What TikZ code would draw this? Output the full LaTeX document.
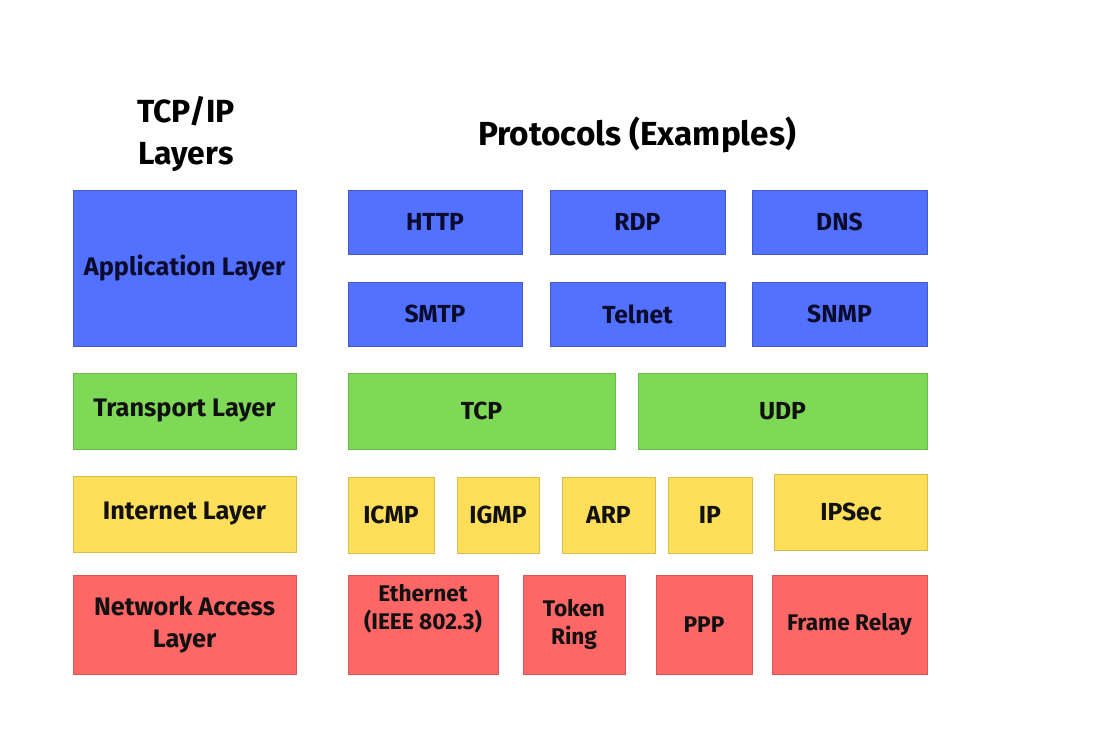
\documentclass[tikz,border=0pt]{standalone}
\usepackage{fontspec}
\setmainfont{Fira Sans}
\definecolor{cblue}{HTML}{5271FF}
\definecolor{cgreen}{HTML}{7ED957}
\definecolor{cyellow}{HTML}{FFDE59}
\definecolor{cred}{HTML}{FF6666}
\definecolor{navy}{HTML}{0B0B2E}
\definecolor{ink}{HTML}{111111}
\newcommand\pbx[7]{\node[#6, minimum width={(#4-#2)*0.75pt}, minimum height={(#5-#3)*0.75pt}] (#1) at ({(#2+#4)/2},{(#3+#5)/2}) {#7};}
\begin{document}
\begin{tikzpicture}[x=0.75pt,y=-0.75pt,
  lbl/.style={font=\fontsize{18.5}{21}\selectfont\bfseries},
  lbll/.style={font=\fontsize{19}{24}\selectfont\bfseries},
  lbls/.style={font=\fontsize{17}{21}\selectfont\bfseries},
  base/.style={inner sep=0pt, align=center, lbl, text=ink, line width=0.4pt},
  bluebox/.style={base, fill=cblue, draw=cblue!80!black, text=navy},
  greenbox/.style={base, fill=cgreen, draw=cgreen!85!black},
  yellowbox/.style={base, fill=cyellow, draw=cyellow!85!black},
  redbox/.style={base, fill=cred, draw=cred!85!black, lbls},
  head/.style={inner sep=0pt, align=center, font=\fontsize{24}{31.5}\selectfont\bfseries, text=black},
  txt/.style={inner sep=0pt, align=center, lbl, text=ink}]
\useasboundingbox[fill=white] (0,0) rectangle (1100,750);

% headers
\node[head] (h1) at (186,134) {TCP/IP\\Layers};
\node[head, font=\fontsize{25}{31.5}\selectfont\bfseries] (h2) at (637,135) {Protocols (Examples)};

% left column
\pbx{app}{73}{190}{296}{346}{bluebox, lbll}{Application Layer}
\pbx{tra}{73}{373}{296}{449}{greenbox, lbll}{Transport Layer}
\pbx{int}{73}{476}{296}{552}{yellowbox, lbll}{Internet Layer}
\pbx{net}{73}{575}{296}{674}{redbox, lbll}{Network Access\\Layer}

% application protocols
\pbx{http}{348}{190}{522}{254}{bluebox}{HTTP}
\pbx{rdp}{550}{190}{725}{254}{bluebox}{RDP}
\pbx{dns}{752}{190}{927}{254}{bluebox}{DNS}
\pbx{smtp}{348}{282}{522}{346}{bluebox}{SMTP}
\pbx{telnet}{550}{282}{725}{346}{bluebox}{Telnet}
\pbx{snmp}{752}{282}{927}{346}{bluebox}{SNMP}

% transport protocols
\pbx{tcp}{348}{373}{615}{449}{greenbox}{TCP}
\pbx{udp}{638}{373}{927}{449}{greenbox}{UDP}

% internet protocols
\pbx{icmp}{348}{477}{434}{553}{yellowbox}{ICMP}
\pbx{igmp}{457}{477}{539}{553}{yellowbox}{IGMP}
\pbx{arp}{562}{477}{655}{553}{yellowbox}{ARP}
\pbx{ip}{668}{477}{752}{553}{yellowbox}{IP}
\pbx{ipsec}{774}{474}{927}{550}{yellowbox}{}
\node[txt] (ipsectxt) at (851,512) {IPSec};

% network access protocols
\pbx{eth}{348}{575}{498}{674}{redbox}{}
\node[txt, lbls] (ethtxt) at (423,609) {Ethernet\\(IEEE 802.3)};
\pbx{tok}{523}{575}{625}{674}{redbox}{Token\\Ring}
\pbx{ppp}{656}{575}{752}{674}{redbox}{PPP}
\pbx{fr}{772}{575}{927}{674}{redbox}{Frame Relay}
\end{tikzpicture}
\end{document}
